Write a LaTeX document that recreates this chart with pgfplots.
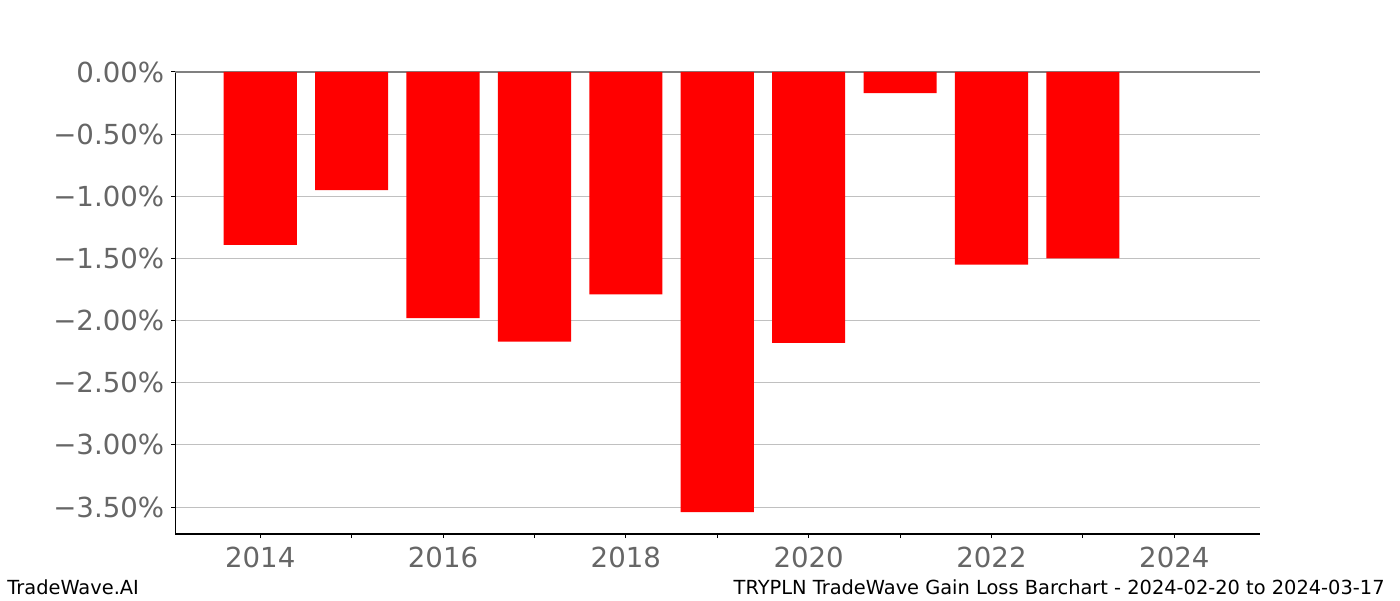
\documentclass[border=0pt]{standalone}
\usepackage{pgfplots}
\pgfplotsset{compat=1.18}
\usepackage{fontspec}
\setmainfont{DejaVu Sans}
\definecolor{ticktext}{HTML}{666666}
\definecolor{gridc}{HTML}{C0C0C0}
\definecolor{barred}{HTML}{FF0000}
\begin{document}
\begin{tikzpicture}
\path[use as bounding box] (0,0) rectangle (700pt,300pt);
\begin{axis}[
  at={(87.6pt,33pt)}, anchor=south west,
  scale only axis,
  width=542.5pt, height=231pt,
  xmin=2013.07, xmax=2024.94,
  ymin=-3.717, ymax=0,
  axis x line*=bottom, axis y line*=left,
  axis line style={-, black, line width=0.6pt},
  xtick={2014,2016,...,2024},
  minor xtick={2015,2017,...,2023},
  xticklabels={2014,2016,2018,2020,2022,2024},
  ytick={-3.5,-3,-2.5,-2,-1.5,-1,-0.5,0},
  yticklabels={−3.50\%,−3.00\%,−2.50\%,−2.00\%,−1.50\%,−1.00\%,−0.50\%,0.00\%},
  tick align=outside,
  major tick length=2pt, minor tick length=2pt,
  tick style={black, line width=0.5pt},
  ymajorgrids,
  major grid style={gridc, line width=0.5pt},
  extra y ticks={0}, extra y tick labels={},
  extra y tick style={grid=major, major grid style={gray, line width=0.6pt}},
  ticklabel style={font=\fontsize{13.8}{16}\selectfont, text=ticktext},
  xticklabel style={yshift=-1pt},
  ybar, bar width=0.8, bar shift=0pt,
]
\addplot[fill=barred, draw=none] coordinates {
  (2014,-1.39) (2015,-0.95) (2016,-1.98) (2017,-2.17) (2018,-1.79)
  (2019,-3.54) (2020,-2.18) (2021,-0.17) (2022,-1.55) (2023,-1.50)
};
\end{axis}
\node[anchor=base west, inner sep=0pt, font=\fontsize{9.7}{12}\selectfont] at (3.5pt,3pt) {TradeWave.AI};
\node[anchor=base east, inner sep=0pt, font=\fontsize{9.7}{12}\selectfont] at (692.5pt,3pt) {TRYPLN TradeWave Gain Loss Barchart - 2024-02-20 to 2024-03-17};
\end{tikzpicture}
\end{document}
